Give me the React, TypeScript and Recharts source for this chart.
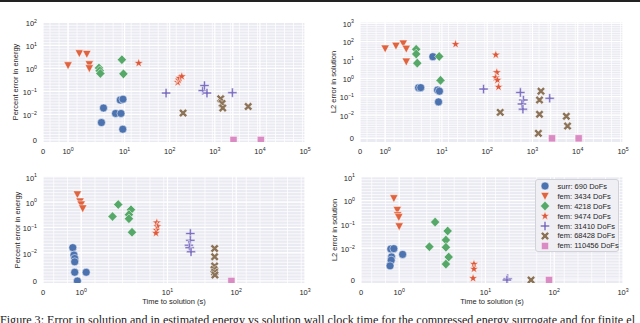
import React from 'react';
import { ScatterChart, Scatter, XAxis, YAxis, CartesianGrid, ReferenceLine } from 'recharts';

const SERIES = [
  'surr: 690 DoFs',
  'fem: 3434 DoFs',
  'fem: 4218 DoFs',
  'fem: 9474 DoFs',
  'fem: 31410 DoFs',
  'fem: 68428 DoFs',
  'fem: 110456 DoFs',
];
const COLORS = ['#4C72B0', '#E0633F', '#55A868', '#DE583B', '#7C6FC0', '#8C7358', '#DA8BC3'];
const MARKERS = ['circle', 'triDown', 'diamond', 'star', 'plus', 'x', 'square'];

// [time to solution (s), error]
const topEnergySurr = [[3.4, 0.019], [3.06, 0.0068], [6.3, 0.011], [8.3, 0.011], [8.0, 0.042], [9.2, 0.046], [9.1, 0.0042]];
const topEnergyF3434 = [[1.0, 1.35], [1.45, 4.5], [1.75, 4.2], [1.85, 1.5], [1.85, 1.0]];
const topEnergyF4218 = [[2.7, 1.05], [2.8, 0.8], [2.9, 0.6], [8.7, 2.4], [9.4, 0.58]];
const topEnergyF9474 = [[20.5, 1.7], [150, 0.25], [158, 0.32], [165, 0.38], [185, 0.45]];
const topEnergyF31410 = [[83, 0.085], [540, 0.11], [590, 0.18], [670, 0.085], [2450, 0.088]];
const topEnergyF68428 = [[198, 0.0114], [1350, 0.048], [1450, 0.03], [1500, 0.019], [5500, 0.022]];
const topEnergyF110456 = [[2600, 0], [10500, 0]];

const topSolSurr = [[6.3, 15], [3.05, 0.31], [3.4, 0.31], [8.0, 0.23], [8.8, 0.2], [8.4, 0.052]];
const topSolF3434 = [[1.0, 41], [1.43, 58], [1.72, 77], [1.84, 40], [1.84, 8]];
const topSolF4218 = [[2.7, 38], [2.7, 21], [2.85, 6.7], [8.7, 15.5], [9.3, 0.77]];
const topSolF9474 = [[20, 72], [155, 19], [163, 2.1], [155, 1.1], [168, 0.8], [178, 0.34]];
const topSolF31410 = [[83, 0.26], [540, 0.17], [630, 0.066], [585, 0.04], [615, 0.021], [2400, 0.082]];
const topSolF68428 = [[194, 0.014], [1540, 0.2], [1430, 0.066], [1430, 0.011], [5600, 0.0086], [5950, 0.0042], [1350, 0.0017]];
const topSolF110456 = [[2700, 0], [10500, 0]];

const botEnergySurr = [[0.78, 0.016], [0.81, 0.0092], [0.83, 0.008], [0.83, 0.0068], [0.83, 0.0031], [1.13, 0.0031], [0.9, 0]];
const botEnergyF3434 = [[0.9, 2.0], [0.97, 1.05], [1.0, 0.8], [1.04, 0.56]];
const botEnergyF4218 = [[1.82, 0.27], [1.97, 0.8], [2.95, 0.5], [2.75, 0.32], [2.75, 0.22], [3.05, 0.065]];
const botEnergyF9474 = [[7.0, 0.155], [7.1, 0.11], [6.9, 0.08], [6.8, 0.06]];
const botEnergyF31410 = [[21.5, 0.058], [21.5, 0.031], [20.5, 0.02], [21, 0.016], [22, 0.011]];
const botEnergyF68428 = [[48.5, 0.0148], [48.5, 0.0086], [48.5, 0.0053], [47.5, 0.0041], [48.5, 0.0031], [49, 0.0021]];
const botEnergyF110456 = [[85, 0]];

const botSolSurr = [[0.78, 0.0093], [0.86, 0.0096], [0.8, 0.0052], [0.79, 0.0045], [0.76, 0.0032], [1.09, 0.0058]];
const botSolF3434 = [[0.86, 1.24], [0.95, 0.4], [0.96, 0.24], [0.99, 0.2], [1.0, 0.082]];
const botSolF4218 = [[1.94, 0.125], [2.82, 0.053], [2.66, 0.022], [1.79, 0.0116], [2.66, 0.011], [2.92, 0.0052], [2.66, 0.0036]];
const botSolF9474 = [[6.8, 0.0036], [6.8, 0.0025], [6.6, 0.0004]];
const botSolF31410 = [[21, 0.0003], [20.5, 0]];
const botSolF68428 = [[46, 0]];
const botSolF110456 = [[84, 0]];

const xTicksTop = [0, 1, 10, 100, 1000, 10000, 100000];
const xTicksBottom = [0, 1, 10, 100, 1000];
const yTicksTopEnergy = [0, 0.01, 0.1, 1, 10, 100];
const yTicksTopSol = [0, 0.01, 0.1, 1, 10, 100, 1000];
const yTicksBottom = [0, 0.01, 0.1, 1, 10];

const FONT = '"Liberation Sans", Arial, sans-serif';
const TXT = '#262626';
const K = 1 / (1 - 1 / 10); // matplotlib symlog linscale adj

// symlog transform (units: decades)
const fwd = (v: number, c: number) => {
  const a = Math.abs(v);
  return a <= c ? (v / c) * K : Math.sign(v) * (K + Math.log10(a / c));
};
const inv = (t: number, c: number) => (t <= K ? (t / K) * c : c * Math.pow(10, t - K));

function steps(start: number, step: number, lo: number, hi: number) {
  const out: number[] = [];
  for (let t = start; t <= hi; t += step) out.push(t);
  for (let t = start - step; t >= lo; t -= step) out.push(t);
  return out;
}

function Marker({ kind, color, cx, cy }: { kind: string; color: string; cx: number; cy: number }) {
  const sw = 0.5;
  if (kind === 'circle') return <circle cx={cx} cy={cy} r={4} fill={color} stroke="#fff" strokeWidth={sw} />;
  let pts: number[][] = [];
  if (kind === 'triDown') pts = [[-4.2, -3.6], [4.2, -3.6], [0, 4.2]];
  else if (kind === 'diamond') pts = [[0, -4.8], [4.6, 0], [0, 4.8], [-4.6, 0]];
  else if (kind === 'square') pts = [[-3.6, -3.6], [3.6, -3.6], [3.6, 3.6], [-3.6, 3.6]];
  else if (kind === 'star') {
    for (let i = 0; i < 10; i++) {
      const r = i % 2 === 0 ? 4.8 : 1.9;
      const a = -Math.PI / 2 + (i * Math.PI) / 5;
      pts.push([r * Math.cos(a), r * Math.sin(a)]);
    }
  } else {
    const L = 4.6;
    const w = kind === 'x' ? 1.4 : 1.0;
    const base = [[-w, -L], [w, -L], [w, -w], [L, -w], [L, w], [w, w], [w, L], [-w, L], [-w, w], [-L, w], [-L, -w], [-w, -w]];
    const ang = kind === 'x' ? Math.PI / 4 : 0;
    pts = base.map(([x, y]) => [x * Math.cos(ang) - y * Math.sin(ang), x * Math.sin(ang) + y * Math.cos(ang)]);
  }
  return (
    <polygon
      points={pts.map(([x, y]) => `${cx + x},${cy + y}`).join(' ')}
      fill={color}
      stroke="#fff"
      strokeWidth={sw}
      strokeLinejoin="miter"
    />
  );
}

function powLabel(raw: number) {
  if (raw < 1e-9) return null;
  const e = Math.round(Math.log10(raw));
  return e < 0 ? '\u2212' + Math.abs(e) : String(e);
}

function XTick(props: any) {
  const { x, y, payload, c } = props;
  const exp = powLabel(inv(payload.value, c));
  return (
    <text x={x} y={y + 12} textAnchor="middle" fontSize={7.5} fill={TXT} fontFamily={FONT}>
      {exp === null ? '0' : '10'}
      {exp !== null && (
        <tspan dy={-3.5} fontSize={5.2}>
          {exp}
        </tspan>
      )}
    </text>
  );
}

function YTick(props: any) {
  const { x, y, payload, c } = props;
  const exp = powLabel(inv(payload.value, c));
  return (
    <text x={x - 6} y={y + (exp === null ? 2.7 : 3.8)} textAnchor="end" fontSize={7.5} fill={TXT} fontFamily={FONT}>
      {exp === null ? '0' : '10'}
      {exp !== null && (
        <tspan dy={-3.5} fontSize={5.2}>
          {exp}
        </tspan>
      )}
    </text>
  );
}

const panels = [
  {
    left: 0, top: 0, w: 320, h: 160, margin: { top: 22, right: 15, left: 0, bottom: 0 }, yW: 43, xH: 18,
    xc: 2, yc: 0.01, xTicks: xTicksTop, yTicks: yTicksTopEnergy, yPad: [0.09, 0.02], xStep: 0.2, highlight: 2512,
    series: [topEnergySurr, topEnergyF3434, topEnergyF4218, topEnergyF9474, topEnergyF31410, topEnergyF68428, topEnergyF110456],
    ylabel: 'Percent error in energy', ylabelX: 16, xlabel: null,
  },
  {
    left: 320, top: 0, w: 320, h: 160, margin: { top: 22, right: 17, left: 0, bottom: 0 }, yW: 40, xH: 18,
    xc: 2, yc: 0.007, xTicks: xTicksTop, yTicks: yTicksTopSol, yPad: [0.2, 0.064], xStep: 0.2, highlight: 2512,
    series: [topSolSurr, topSolF3434, topSolF4218, topSolF9474, topSolF31410, topSolF68428, topSolF110456],
    ylabel: 'L2 error in solution', ylabelX: 334, xlabel: null,
  },
  {
    left: 0, top: 160, w: 320, h: 163, margin: { top: 16, right: 15, left: 0, bottom: 0 }, yW: 43, xH: 40,
    xc: 2, yc: 0.01, xTicks: xTicksBottom, yTicks: yTicksBottom, yPad: [0.08, 0.03], xStep: 0.2, highlight: null,
    series: [botEnergySurr, botEnergyF3434, botEnergyF4218, botEnergyF9474, botEnergyF31410, botEnergyF68428, botEnergyF110456],
    ylabel: 'Percent error in energy', ylabelX: 18, xlabel: 'Time to solution (s)',
  },
  {
    left: 320, top: 160, w: 320, h: 163, margin: { top: 16, right: 17, left: 0, bottom: 0 }, yW: 41, xH: 40,
    xc: 2, yc: 0.006, xTicks: xTicksBottom, yTicks: yTicksBottom, yPad: [0.126, 0.03], xStep: 0.2, highlight: null,
    series: [botSolSurr, botSolF3434, botSolF4218, botSolF9474, botSolF31410, botSolF68428, botSolF110456],
    ylabel: 'L2 error in solution', ylabelX: 335, xlabel: 'Time to solution (s)',
  },
];

function Panel({ p }: { p: (typeof panels)[number] }) {
  const xMax = fwd(p.xTicks[p.xTicks.length - 1], p.xc);
  const yLo = -p.yPad[0];
  const yHi = fwd(p.yTicks[p.yTicks.length - 1], p.yc) + p.yPad[1];
  const xMajor = p.xTicks.map((v) => fwd(v, p.xc));
  const yMajor = p.yTicks.map((v) => fwd(v, p.yc));
  const xMinor = steps(fwd(1, p.xc), p.xStep, 0, xMax);
  const yMinor = steps(fwd(p.yTicks[1], p.yc), 1 / 8, 0, yHi);
  const plotTop = p.top + p.margin.top;
  const plotBottom = p.top + p.h - p.xH;
  const plotLeft = p.left + p.yW;
  const plotRight = p.left + p.w - p.margin.right;
  return (
    <>
      <div style={{ position: 'absolute', left: p.left, top: p.top }}>
        <ScatterChart width={p.w} height={p.h} margin={p.margin}>
          <CartesianGrid fill="#EAEAF2" stroke="#ffffff" strokeWidth={0.75} horizontalValues={yMinor} verticalValues={xMinor} />
          <CartesianGrid stroke="#ffffff" strokeWidth={1.2} horizontalValues={yMajor} verticalValues={xMajor} />
          {p.highlight !== null && (
            <ReferenceLine x={fwd(p.highlight, p.xc)} stroke="#ffffff" strokeWidth={1.4} />
          )}
          <XAxis
            type="number"
            dataKey="x"
            domain={[0, xMax]}
            ticks={xMajor}
            interval={0}
            allowDataOverflow
            axisLine={false}
            tickLine={false}
            tickSize={0}
            tickMargin={0}
            height={p.xH}
            tick={(tp: any) => <XTick {...tp} c={p.xc} />}
          />
          <YAxis
            type="number"
            dataKey="y"
            domain={[yLo, yHi]}
            ticks={yMajor}
            interval={0}
            allowDataOverflow
            axisLine={false}
            tickLine={false}
            tickSize={0}
            tickMargin={0}
            width={p.yW}
            tick={(tp: any) => <YTick {...tp} c={p.yc} />}
          />
          {p.series.map((pts, i) => (
            <Scatter
              key={SERIES[i]}
              name={SERIES[i]}
              data={pts.map(([t, e]) => ({ x: fwd(t, p.xc), y: fwd(e, p.yc) }))}
              isAnimationActive={false}
              shape={(sp: any) => <Marker kind={MARKERS[i]} color={COLORS[i]} cx={sp.cx} cy={sp.cy} />}
            />
          ))}
        </ScatterChart>
      </div>
      <div
        style={{
          position: 'absolute', left: p.ylabelX, top: (plotTop + plotBottom) / 2,
          transform: 'translate(-50%, -50%) rotate(-90deg)', whiteSpace: 'nowrap',
          fontSize: 7.5, fontFamily: FONT, color: TXT, lineHeight: 1,
        }}
      >
        {p.ylabel}
      </div>
      {p.xlabel && (
        <div
          style={{
            position: 'absolute', left: (plotLeft + plotRight) / 2, top: 302,
            transform: 'translate(-50%, -50%)', whiteSpace: 'nowrap',
            fontSize: 7.5, fontFamily: FONT, color: TXT, lineHeight: 1,
          }}
        >
          {p.xlabel}
        </div>
      )}
    </>
  );
}

function Legend() {
  return (
    <div
      style={{
        position: 'absolute', left: 535, top: 179, width: 84, height: 73, boxSizing: 'border-box',
        background: '#EFEFF4', border: '1px solid #D2D2DA', borderRadius: 3, paddingTop: 1.5,
      }}
    >
      {SERIES.map((name, i) => (
        <div key={name} style={{ display: 'flex', alignItems: 'center', height: 9.9 }}>
          <svg width={10} height={10} style={{ marginLeft: 3.5, flex: 'none' }}>
            <Marker kind={MARKERS[i]} color={COLORS[i]} cx={5} cy={5} />
          </svg>
          <span style={{ marginLeft: 8, fontSize: 7.5, fontFamily: FONT, color: TXT, whiteSpace: 'nowrap' }}>{name}</span>
        </div>
      ))}
    </div>
  );
}

export default function App() {
  return (
    <div style={{ position: 'fixed', left: 0, top: 0, width: 640, height: 323, background: '#fff', overflow: 'hidden' }}>
      <div style={{ position: 'absolute', left: 0, top: 0, width: 640, height: 2, background: '#222' }} />
      {panels.map((p, i) => (
        <Panel key={i} p={p} />
      ))}
      <Legend />
      <div
        style={{
          position: 'absolute', left: 0, top: 313, width: 700, whiteSpace: 'nowrap',
          fontFamily: '"Liberation Serif", "Times New Roman", serif', fontSize: 12.1, lineHeight: '14px', color: '#222',
        }}
      >
        Figure 3: Error in solution and in estimated energy vs solution wall clock time for the compressed energy surrogate and for finite el
      </div>
    </div>
  );
}
